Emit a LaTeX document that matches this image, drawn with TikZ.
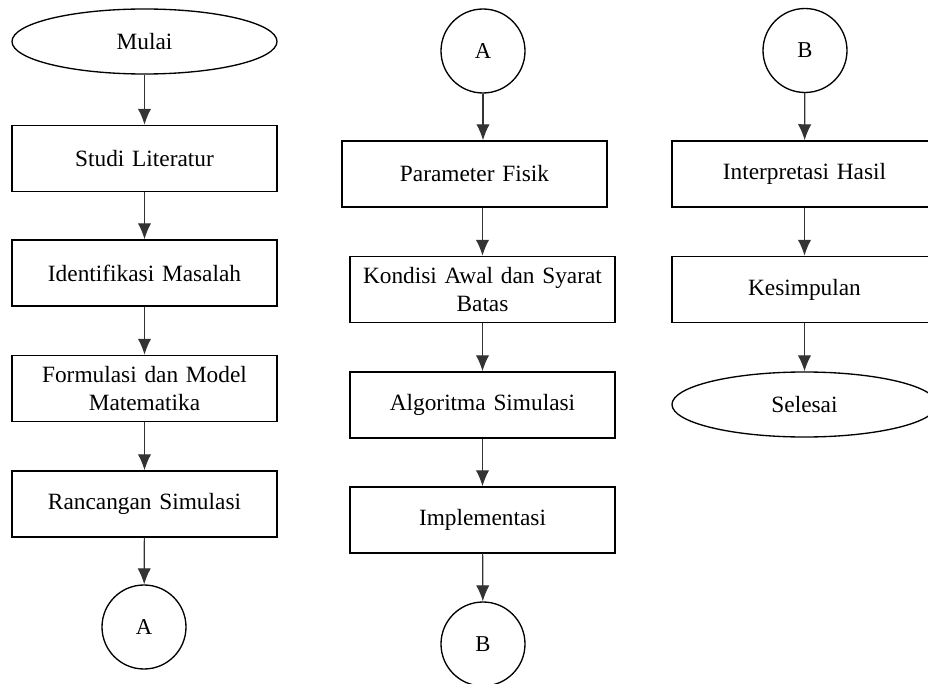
\documentclass[tikz,border=0pt]{standalone}
\usepackage{fontspec}
\setmainfont[WordSpace=0.85]{Liberation Serif}
\usepackage{tikz}
\usetikzlibrary{arrows.meta,shapes.geometric}

\begin{document}
\begin{tikzpicture}[x=0.75pt,y=-0.75pt]
\tikzset{process/.style = {shape=rectangle,draw,line width=1.1pt,minimum width=198.75pt,minimum height=49.5pt,align=center,font=\fontsize{17.5}{21}\selectfont,inner sep=2pt,text width=190pt}}
\tikzset{terminal/.style = {shape=ellipse,draw,line width=1pt,minimum width=198.75pt,minimum height=48.75pt,font=\fontsize{17.5}{21}\selectfont}}
\tikzset{connector/.style = {shape=circle,draw,line width=1pt,minimum size=63pt,inner sep=0pt,font=\fontsize{17}{20}\selectfont}}
\tikzset{edge/.style = {->,line width=0.9pt,draw=black!80,> = {Latex[length=12pt,width=10pt]}}}
\useasboundingbox (0,0) rectangle (928,684);
% nodes, first column
\node[terminal]  (mulai)     at (144.5,41.5) {Mulai};
\node[process]   (studi)     at (144.5,158.5) {Studi Literatur};
\node[process]   (identif)   at (144.5,273) {Identifikasi Masalah};
\node[process]   (formulasi) at (144.5,388.5) {Formulasi dan Model\\Matematika};
\node[process]   (rancangan) at (144.5,504) {Rancangan Simulasi};
\node[connector] (a1)        at (144,627) {A};
% nodes, second column
\node[connector] (a2)        at (483,51) {A};
\node[process]   (param)     at (474.5,174) {Parameter Fisik};
\node[process]   (kondisi)   at (482.5,289.5) {Kondisi Awal dan Syarat\\Batas};
\node[process]   (algo)      at (482.5,405) {Algoritma Simulasi};
\node[process]   (implem)    at (482.5,520) {Implementasi};
\node[connector] (b1)        at (483,644) {B};
% nodes, third column
\node[connector] (b2)        at (805,50.5) {B};
\node[process]   (interp)    at (804.5,174) {Interpretasi Hasil};
\node[process]   (simpul)    at (804.5,289.5) {Kesimpulan};
\node[terminal]  (selesai)   at (804.5,404.5) {Selesai};
%edges
\draw[edge] (mulai) to (studi);
\draw[edge] (studi) to (identif);
\draw[edge] (identif) to (formulasi);
\draw[edge] (formulasi) to (rancangan);
\draw[edge] (rancangan) to (a1);
\draw[edge] (a2) to (a2 |- param.north);
\draw[edge] (kondisi.north |- param.south) to (kondisi);
\draw[edge] (kondisi) to (algo);
\draw[edge] (algo) to (implem);
\draw[edge] (implem) to (b1);
\draw[edge] (b2) to (interp);
\draw[edge] (interp) to (simpul);
\draw[edge] (simpul) to (selesai);
\end{tikzpicture}
\end{document}
